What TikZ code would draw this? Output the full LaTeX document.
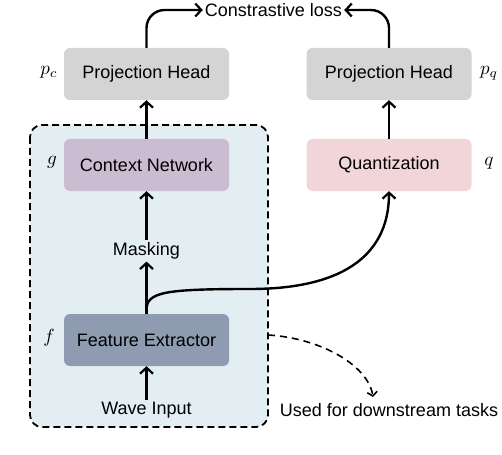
\documentclass[tikz,border=0pt]{standalone}
\usepackage{fontspec}
\setmainfont{Liberation Sans}
\usetikzlibrary{arrows.meta}
\definecolor{phgray}{HTML}{D4D4D4}
\definecolor{ctxpurple}{HTML}{CCBCD2}
\definecolor{qpink}{HTML}{F1D5D9}
\definecolor{feblue}{HTML}{8E9BB1}
\definecolor{bgblue}{HTML}{E3EEF3}
\newcommand{\biglbl}[1]{\scalebox{1.9}{$#1$}}
\tikzset{
  block/.style={rounded corners=6pt, minimum width=165pt, minimum height=52pt, inner sep=0pt, font=\fontsize{18}{20}\selectfont},
  lbl/.style={inner sep=2pt, font=\fontsize{18}{20}\selectfont},
  mlbl/.style={inner sep=0pt},
  conn/.style={line width=2.4pt, -{Straight Barb[length=6pt,width=13pt,line width=2.2pt]}},
  dconn/.style={line width=1.6pt, dash pattern=on 7pt off 5pt, -{Straight Barb[length=4pt,width=10pt,line width=1.6pt]}},
}
\begin{document}
\begin{tikzpicture}[x=1pt,y=-1pt]
\useasboundingbox (0,0) rectangle (502,454);
% dashed encoder region
\draw[fill=bgblue, line width=1.8pt, dash pattern=on 7pt off 4pt, rounded corners=12pt] (30,125) rectangle (268,427);
\node[block, fill=phgray] (phc) at (146.5,74) {Projection Head};
\node[block, fill=phgray] (phq) at (389,74) {Projection Head};
\node[block, fill=ctxpurple] (ctx) at (146.5,165) {Context Network};
\node[block, fill=qpink] (quant) at (389,165) {Quantization};
\node[block, fill=feblue] (fe) at (146.5,340) {Feature Extractor};
\node[lbl] (mask) at (146.5,251) {Masking};
\node[lbl] (wave) at (146.5,410) {Wave Input};
\node[lbl] (loss) at (273.5,10) {Constrastive loss};
\node[lbl] (down) at (389,410) {Used for downstream tasks};
\node[mlbl] (lpc) at (49,72) {\biglbl{p_c}};
\node[mlbl] (lpq) at (489,73) {\biglbl{p_q}};
\node[mlbl] (lg) at (52,162) {\biglbl{g}};
\node[mlbl] (lq) at (489,163) {\biglbl{q}};
\node[mlbl] (lf) at (49,338) {\biglbl{f}};
\coordinate (dstart) at (268,335);
\coordinate (dend) at (373,397);
% connectors
\draw[conn] (wave.north) -- (fe.south);
\draw[conn] (fe.north) -- (mask.south);
\draw[conn] (mask.north) -- (ctx.south);
\draw[conn] (ctx.north) -- (phc.south);
\draw[conn] (quant.north) -- (phq.south);
\draw[conn, rounded corners=18pt] (phc.north) |- (loss.west);
\draw[conn, rounded corners=18pt] (phq.north) |- (loss.east);
\draw[conn] (fe.north) -- ++(0,-4) .. controls (146.5,292) and (165,289) .. (250,289)
  .. controls (350,289) and (389,250) .. (quant.south);
\draw[dconn] (dstart) .. controls (320,338) and (368,365) .. (dend);
\end{tikzpicture}
\end{document}
